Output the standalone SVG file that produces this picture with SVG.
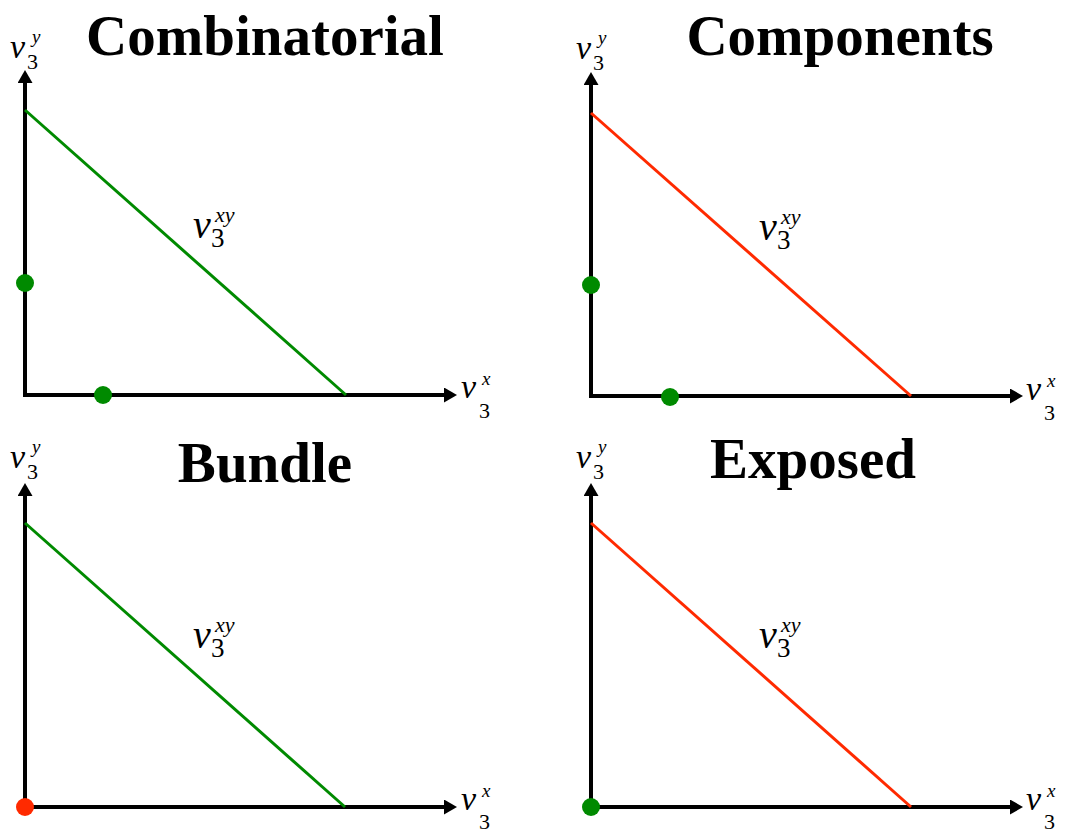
<svg xmlns="http://www.w3.org/2000/svg" width="1067" height="832" viewBox="0 0 1067 832">
<style>
.title{font-family:"Liberation Serif","Times New Roman",serif;font-weight:bold;font-size:57px;fill:#000;text-anchor:middle}
.v{font-family:"Liberation Serif","Times New Roman",serif;font-style:italic;fill:#000}
.n{font-family:"Liberation Serif","Times New Roman",serif;fill:#000}
.axis{stroke:#000;stroke-width:4;fill:none;marker-end:url(#arr)}
.g{stroke:#008a00;stroke-width:3;fill:none}
.r{stroke:#ff2a00;stroke-width:3;fill:none}
.dg{fill:#008a00}
.dr{fill:#ff2a00}
</style>
<defs>
<marker id="arr" viewBox="0 0 13 15" refX="0" refY="7.5" markerWidth="13" markerHeight="15" markerUnits="userSpaceOnUse" orient="auto">
<path d="M0,0 L13,7.5 L0,15 z" fill="#000"/>
</marker>
</defs>
<rect width="1067" height="832" fill="#fff"/>

<g id="titles">
<text class="title" x="265" y="55">Combinatorial</text>
<text class="title" x="840" y="55">Components</text>
<text class="title" x="265" y="482">Bundle</text>
<text class="title" x="813" y="478">Exposed</text>
</g>

<g id="connectors">
<path class="axis" d="M25,397 L25,83"/>
<path class="axis" d="M23,395 L444,395"/>
<path class="axis" d="M591,398 L591,85"/>
<path class="axis" d="M589,396 L1010,396"/>
<path class="axis" d="M25,809 L25,496"/>
<path class="axis" d="M23,807 L444,807"/>
<path class="axis" d="M591,809 L591,496"/>
<path class="axis" d="M589,807 L1010,807"/>
<line class="g" x1="25" y1="110" x2="346" y2="395"/>
<line class="r" x1="591" y1="113" x2="911" y2="396"/>
<line class="g" x1="25" y1="523" x2="345" y2="807"/>
<line class="r" x1="591" y1="523" x2="911" y2="807"/>
</g>

<g id="panel-combinatorial">
<circle class="dg" cx="25" cy="283" r="9"/>
<circle class="dg" cx="103" cy="395" r="9"/>
<text class="v" x="10" y="58" font-size="34">v</text><text class="n" x="27" y="69" font-size="22">3</text><text class="v" x="32" y="43" font-size="19">y</text>
<text class="v" x="461" y="398" font-size="34">v</text><text class="n" x="479" y="418" font-size="22">3</text><text class="v" x="482" y="385" font-size="19">x</text>
<text class="v" x="193" y="238" font-size="40">v</text><text class="n" x="211" y="247" font-size="27">3</text><text class="v" x="215" y="222" font-size="22">xy</text>
</g>

<g id="panel-components">
<circle class="dg" cx="591" cy="285" r="9"/>
<circle class="dg" cx="670" cy="397" r="9"/>
<text class="v" x="576" y="59" font-size="34">v</text><text class="n" x="593" y="70" font-size="22">3</text><text class="v" x="598" y="44" font-size="19">y</text>
<text class="v" x="1026" y="400" font-size="34">v</text><text class="n" x="1044" y="420" font-size="22">3</text><text class="v" x="1047" y="387" font-size="19">x</text>
<text class="v" x="759" y="240" font-size="40">v</text><text class="n" x="777" y="249" font-size="27">3</text><text class="v" x="781" y="224" font-size="22">xy</text>
</g>

<g id="panel-bundle">
<circle class="dr" cx="25" cy="807" r="9"/>
<text class="v" x="10" y="468" font-size="34">v</text><text class="n" x="27" y="479" font-size="22">3</text><text class="v" x="32" y="453" font-size="19">y</text>
<text class="v" x="461" y="810" font-size="34">v</text><text class="n" x="479" y="829" font-size="22">3</text><text class="v" x="482" y="797" font-size="19">x</text>
<text class="v" x="193" y="648" font-size="40">v</text><text class="n" x="211" y="657" font-size="27">3</text><text class="v" x="215" y="632" font-size="22">xy</text>
</g>

<g id="panel-exposed">
<circle class="dg" cx="591" cy="807" r="9"/>
<text class="v" x="576" y="468" font-size="34">v</text><text class="n" x="593" y="479" font-size="22">3</text><text class="v" x="598" y="453" font-size="19">y</text>
<text class="v" x="1026" y="810" font-size="34">v</text><text class="n" x="1044" y="829" font-size="22">3</text><text class="v" x="1047" y="797" font-size="19">x</text>
<text class="v" x="759" y="648" font-size="40">v</text><text class="n" x="777" y="657" font-size="27">3</text><text class="v" x="781" y="632" font-size="22">xy</text>
</g>
</svg>
